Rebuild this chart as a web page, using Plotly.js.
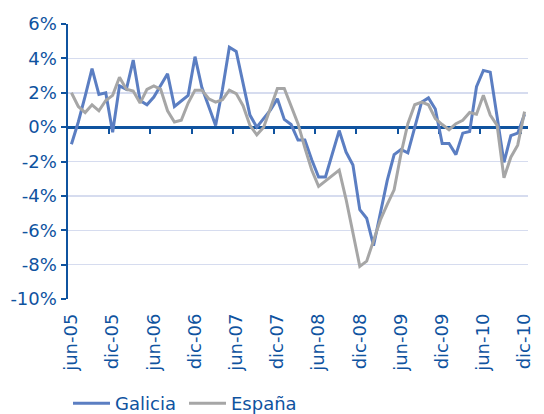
<!DOCTYPE html>
<html>
<head>
<meta charset="utf-8">
<script src="https://cdn.plot.ly/plotly-3.0.1.min.js"></script>
<style>
html,body{margin:0;padding:0;background:#fff;}
#chart{width:544px;height:414px;}
</style>
</head>
<body>
<div id="chart"></div>
<script>
// ---- data ----
const monthNames = ["ene","feb","mar","abr","may","jun","jul","ago","sep","oct","nov","dic"];
const startYear = 2005, startMonth = 5; // jun-05
const nMonths = 67;                      // jun-05 .. dic-10
const months = [];
for (let i = 0; i < nMonths; i++) {
  const m = (startMonth + i) % 12;
  const y = startYear + Math.floor((startMonth + i) / 12);
  months.push(monthNames[m] + "-" + String(y).slice(2));
}
const tickLabels = ["jun-05","dic-05","jun-06","dic-06","jun-07","dic-07","jun-08","dic-08","jun-09","dic-09","jun-10","dic-10"];

const galicia = [-1.0,0.3,1.8,3.4,1.9,2.0,-0.3,2.4,2.2,3.9,1.55,1.3,
  1.75,2.4,3.1,1.2,1.55,1.85,4.1,2.3,1.2,0.1,2.2,4.65,
  4.4,2.6,0.7,0.0,0.5,1.0,1.65,0.45,0.15,-0.75,-0.75,-1.9,
  -2.9,-2.9,-1.55,-0.2,-1.45,-2.2,-4.8,-5.3,-6.9,-5.0,-3.1,-1.6,
  -1.3,-1.5,0.0,1.45,1.7,1.05,-0.95,-0.95,-1.6,-0.35,-0.25,2.35,
  3.3,3.2,0.6,-2.05,-0.5,-0.35,0.75];
const espana = [2.0,1.2,0.85,1.3,0.95,1.55,1.85,2.9,2.2,2.1,1.4,2.2,
  2.4,2.2,0.95,0.3,0.4,1.4,2.15,2.15,1.65,1.45,1.6,2.15,
  1.95,1.25,0.1,-0.45,0.0,1.15,2.25,2.25,1.25,0.2,-1.2,-2.5,
  -3.45,-3.15,-2.8,-2.5,-4.2,-6.15,-8.1,-7.8,-6.55,-5.4,-4.5,-3.65,
  -1.55,0.2,1.3,1.45,1.3,0.5,0.15,-0.15,0.2,0.4,0.85,0.75,
  1.85,0.7,0.1,-2.95,-1.75,-1.05,0.9];

const yTickVals = [6,4,2,0,-2,-4,-6,-8,-10];
const yTickText = ["6%","4%","2%","0%","-2%","-4%","-6%","-8%","-10%"];
const seriesNames = ["Galicia","España"];

// ---- styles ----
const dark = "#0f539f";
const font = "DejaVu Sans, sans-serif";
const idx = months.map((_, i) => i);
const boundaryTicks = [];
for (let k = 1; k * 6 < nMonths; k++) boundaryTicks.push(k * 6 - 0.5);

const traces = [
  {x: months, y: galicia, name: seriesNames[0], type: "scatter", mode: "lines",
   line: {color: "#5b7ec2", width: 3}, hoverinfo: "skip"},
  {x: months, y: espana, name: seriesNames[1], type: "scatter", mode: "lines",
   line: {color: "#a6a6a6", width: 3}, hoverinfo: "skip"},
  {x: idx, y: galicia, xaxis: "x2", yaxis: "y", type: "scatter", mode: "lines",
   line: {width: 0}, opacity: 0, showlegend: false, hoverinfo: "skip"}
];

const layout = {
  width: 544, height: 414,
  margin: {l: 68, r: 16, t: 24, b: 115, autoexpand: false},
  paper_bgcolor: "#fff", plot_bgcolor: "#fff",
  font: {family: font, color: dark, size: 18},
  showlegend: true,
  legend: {orientation: "h", x: 0.0, xanchor: "left", y: -0.38, yanchor: "middle",
           itemwidth: 37, entrywidth: 64, entrywidthmode: "pixels",
           font: {family: font, size: 18, color: dark}, tracegroupgap: 0},
  xaxis: {
    type: "category", range: [-0.5, nMonths - 0.5],
    tickmode: "array", tickvals: tickLabels, ticktext: tickLabels,
    tickangle: -90, ticks: "", showline: false, showgrid: false, zeroline: false,
    tickfont: {family: font, size: 18, color: dark}, ticklabelstandoff: 10
  },
  xaxis2: {
    type: "linear", overlaying: "x", anchor: "free", position: 10/16,
    range: [-0.5, nMonths - 0.5], tickmode: "array", tickvals: boundaryTicks,
    showticklabels: false, ticks: "outside", ticklen: 5, tickwidth: 2, tickcolor: dark,
    showline: true, linecolor: dark, linewidth: 2.5, showgrid: false, zeroline: false,
    layer: "below traces"
  },
  yaxis: {
    range: [-10, 6], tickmode: "array", tickvals: yTickVals, ticktext: yTickText,
    showline: true, linecolor: dark, linewidth: 2.5,
    ticks: "outside", ticklen: 5, tickwidth: 2, tickcolor: dark,
    showgrid: true, gridcolor: "#d6dcef", gridwidth: 1.5, zeroline: false,
    tickfont: {family: font, size: 18, color: dark}
  }
};

Plotly.newPlot("chart", traces, layout, {displayModeBar: false, staticPlot: true});
</script>
</body>
</html>
